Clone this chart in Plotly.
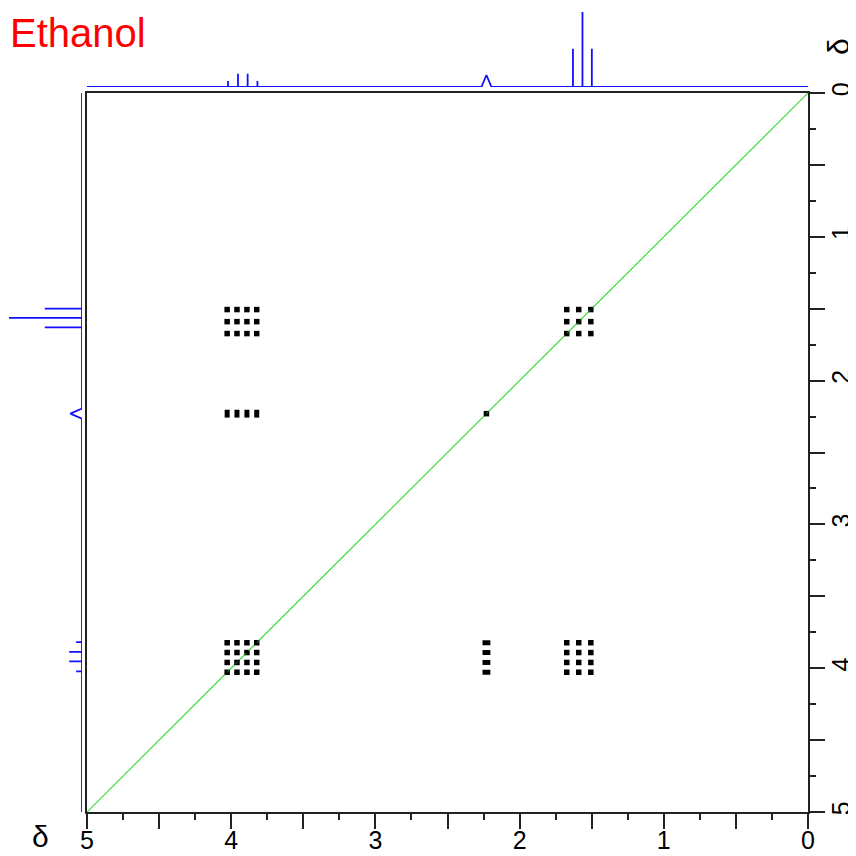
import plotly.graph_objects as go

PAGE = 856          # browser window size
OFF = 8             # default body margin of the written html page
W = H = PAGE - OFF

# ---------------- data ----------------
title_text = "Ethanol"
axis_symbol = "δ"
axis_range = [5, 0]                       # chemical shift range (ppm)
major_ticks = [0, 0.5, 1, 1.5, 2, 2.5, 3, 3.5, 4, 4.5, 5]
major_labels = ["0", "", "1", "", "2", "", "3", "", "4", "", "5"]

# 1D projection spectrum (shared by top F2 and left F1 traces)
peak_ppm = [4.022, 3.953, 3.886, 3.818, 2.230, 1.630, 1.564, 1.499]
peak_int = [8, 17.5, 17.5, 8, 16, 51, 100, 51]
peak_halfwidth = [0, 0, 0, 0, 0.035, 0, 0, 0]

# multiplet line positions seen in the 2D contour map
ch2_lines = [4.028, 3.960, 3.891, 3.823]
oh_lines = [2.230]
ch3_lines = [1.673, 1.590, 1.506]

# COSY cross/diagonal peaks: (F2 group, F1 group, dot style)
cosy_pairs = [
    ("CH2", "CH2", "dot"),
    ("CH3", "CH3", "dot"),
    ("OH", "OH", "dot"),
    ("CH2", "CH3", "dot"),
    ("CH3", "CH2", "dot"),
    ("CH2", "OH", "vbar"),
    ("OH", "CH2", "hbar"),
]
groups = {"CH2": ch2_lines, "OH": oh_lines, "CH3": ch3_lines}

# ---------------- geometry helpers (page pixels -> paper) ----------------
def px(v):
    return (v - OFF) / W

def py(v):
    return 1 - (v - OFF) / H

blue = "#1010ff"
frame = "#222222"
tick_font = dict(family="Liberation Sans Narrow, Arial Narrow, Liberation Sans, Arial", size=25, color="black")

# build projection polyline from peak list
def projection(ppms, ints, hws):
    order = sorted(range(len(ppms)), key=lambda i: -ppms[i])
    xs, ys = [axis_range[0]], [0]
    for i in order:
        p, h, w = ppms[i], ints[i], hws[i]
        if w > 0:
            xs += [p + w, p, p - w]
            ys += [0, h, 0]
        else:
            xs += [p, p, p]
            ys += [0, h, 0]
    xs.append(axis_range[1])
    ys.append(0)
    return xs, ys

spec_x, spec_y = projection(peak_ppm, peak_int, peak_halfwidth)

fig = go.Figure()

# diagonal
fig.add_trace(go.Scatter(x=axis_range, y=axis_range, mode="lines",
                         line=dict(color="#44dd44", width=1.2), xaxis="x", yaxis="y"))

# 2D peaks
styles = {
    "dot": dict(symbol="square", size=5.5, color="black", line=dict(width=0)),
    "vbar": dict(symbol="line-ns", size=5.6, color="black", line=dict(width=5, color="black")),
    "hbar": dict(symbol="line-ew", size=5.6, color="black", line=dict(width=5, color="black")),
}
for g2, g1, st in cosy_pairs:
    xs, ys = [], []
    for a in groups[g2]:
        for b in groups[g1]:
            xs.append(a)
            ys.append(b)
    fig.add_trace(go.Scatter(x=xs, y=ys, mode="markers", marker=styles[st],
                             xaxis="x", yaxis="y", hoverinfo="skip"))

# diagonal drawn again thinly over the dots (as in the reference)
fig.add_trace(go.Scatter(x=axis_range, y=axis_range, mode="lines",
                         line=dict(color="#44dd44", width=0.8, dash="dot"), xaxis="x", yaxis="y"))

# top projection
fig.add_trace(go.Scatter(x=spec_x, y=spec_y, mode="lines",
                         line=dict(color=blue, width=1.8), xaxis="x2", yaxis="y2"))
# left projection
fig.add_trace(go.Scatter(x=spec_y, y=spec_x, mode="lines",
                         line=dict(color=blue, width=1.8), xaxis="x3", yaxis="y3"))

main_x_dom = [px(87), px(808)]
main_y_dom = [py(812), py(93)]

common = dict(
    showline=True, linecolor=frame, linewidth=2, mirror=True,
    showgrid=False, zeroline=False, automargin=False,
    ticks="outside", ticklen=15, tickwidth=2, tickcolor=frame,
    tickmode="array", tickvals=major_ticks, ticktext=major_labels,
    minor=dict(tickmode="linear", tick0=0.25, dtick=0.5, ticks="outside",
               ticklen=6, tickwidth=2, tickcolor=frame, showgrid=False),
    tickfont=tick_font, range=axis_range, fixedrange=True,
)
hidden = dict(visible=False, automargin=False, showgrid=False, zeroline=False, fixedrange=True)

fig.update_layout(
    template="none",
    width=W, height=H, autosize=False,
    margin=dict(l=0, r=0, t=0, b=0, pad=0),
    paper_bgcolor="white", plot_bgcolor="white",
    showlegend=False,
    xaxis=dict(domain=main_x_dom, anchor="y", side="bottom", ticklabelstandoff=-10, **common),
    yaxis=dict(domain=main_y_dom, anchor="x", side="right", tickangle=-90,
               ticklabelstandoff=-5, **common),
    xaxis2=dict(domain=main_x_dom, anchor="y2", matches="x", **hidden),
    yaxis2=dict(domain=[py(87), py(12)], anchor="x2", range=[0, 100], **hidden),
    xaxis3=dict(domain=[px(9), px(82)], anchor="y3", range=[100, 0], **hidden),
    yaxis3=dict(domain=main_y_dom, anchor="x3", matches="y", **hidden),
    annotations=[
        dict(text=title_text, xref="paper", yref="paper", x=px(8), y=py(33),
             xanchor="left", yanchor="middle", showarrow=False,
             font=dict(family="Liberation Sans, Arial", size=40, color="#ff0000")),
        dict(text=axis_symbol, xref="paper", yref="paper", x=px(40), y=py(836),
             xanchor="center", yanchor="middle", showarrow=False,
             font=dict(family="Liberation Sans, Arial", size=30, color="black")),
        dict(text=axis_symbol, xref="paper", yref="paper", x=px(838), y=py(47),
             xanchor="center", yanchor="middle", showarrow=False, textangle=-90,
             font=dict(family="Liberation Sans, Arial", size=30, color="black")),
    ],
)

fig.write_html("out.html")
